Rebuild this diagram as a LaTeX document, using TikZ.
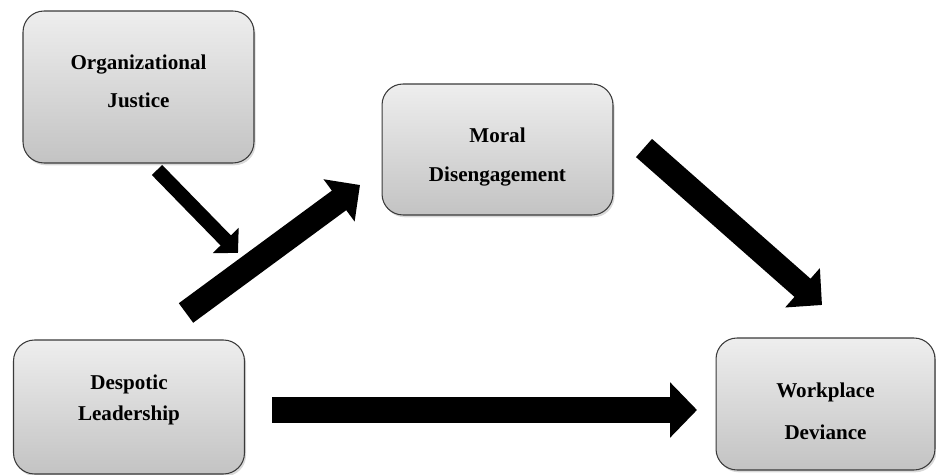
\documentclass[tikz,border=0pt]{standalone}
\usepackage{fontspec}
\setmainfont{Liberation Serif}
\usetikzlibrary{arrows.meta,shadows}
\definecolor{boxtop}{HTML}{EEEEEE}
\definecolor{boxbottom}{HTML}{C3C3C3}
\definecolor{boxline}{HTML}{3A3A3A}
\tikzset{%
  % Specifications for style of nodes:
            base/.style = {rectangle, rounded corners=0.42cm, draw=boxline,
                           line width=0.6pt, inner sep=0pt,
                           top color=boxtop, bottom color=boxbottom,
                           drop shadow={shadow xshift=0.9pt, shadow yshift=-1.3pt,
                                        opacity=0.3}},
       varbox/.style = {base, minimum width=4.62cm, minimum height=2.64cm},
      boxtext/.style = {align=center, inner sep=0pt,
                        font=\fontsize{12}{14}\selectfont\bfseries},
  % Specifications for the block arrows:
      thinarrow/.style = {line width=8.2pt, -{Triangle[length=10pt, width=20pt]}},
      fatarrow/.style = {line width=13.8pt, -{Triangle[length=14.8pt, width=29pt]}},
}

\begin{document}
\begin{tikzpicture}[x=0.02cm, y=-0.02cm]
  \useasboundingbox (0,0) rectangle (936,475);
  % Specification of nodes (position, etc.)

  \node (justice)      [varbox, minimum height=3.04cm] at (138.5,87) {};
  \node (moral)        [varbox, minimum height=2.62cm] at (497.5,149.5) {};
  \node (despotic)     [varbox, minimum height=2.68cm] at (129,407) {};
  \node (deviance)     [varbox, minimum width=4.38cm] at (825.5,404) {};

  \node (justice-txt)  [boxtext] at ([yshift=0.12cm]justice) {Organizational\\[7.5pt]Justice};
  \node (moral-txt)    [boxtext] at ([yshift=-0.15cm]moral) {Moral\\[8pt]Disengagement};
  \node (despotic-txt) [boxtext] at ([yshift=0.14cm]despotic) {Despotic\\[4pt]Leadership};
  \node (deviance-txt) [boxtext] at ([yshift=-0.14cm]deviance) {Workplace\\[10pt]Deviance};

  \coordinate (justice-out)  at (157,170);
  \coordinate (moderate)     at (238,253);
  \coordinate (despotic-out) at (186,313);
  \coordinate (moral-in)     at (360,185);
  \coordinate (moral-out)    at (644,148);
  \coordinate (deviance-in)  at (822,305);
  \coordinate (despotic-east) at (272,410);
  \coordinate (deviance-west) at (697,410);

  \draw[thinarrow]   (justice-out) -- (moderate);
  \draw[fatarrow]    (despotic-out) -- (moral-in);
  \draw[fatarrow]    (moral-out) -- (deviance-in);
  \draw[fatarrow, line width=14.7pt, -{Triangle[length=15.3pt, width=30.6pt]}]
                     (despotic-east) -- (deviance-west);
\end{tikzpicture}
\end{document}
